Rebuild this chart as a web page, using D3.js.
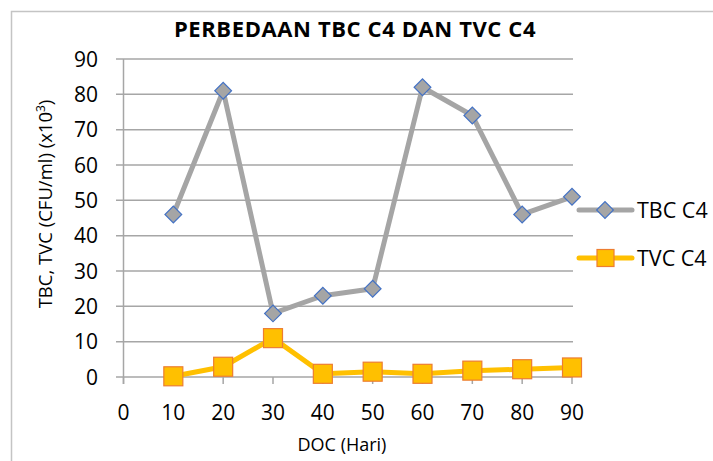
<!DOCTYPE html>
<html>
<head>
<meta charset="UTF-8">
<script src="https://d3js.org/d3.v7.min.js"></script>
<style>
  body { margin: 0; background: #fff; }
  text { font-family: "Open Sans", sans-serif; fill: #000; }
</style>
</head>
<body>
<div id="id_chart"></div>
<script>
// chart values
var days = [10, 20, 30, 40, 50, 60, 70, 80, 90];
var tbc = [46, 81, 18, 23, 25, 82, 74, 46, 51];
var tvc = [0.2, 2.9, 11, 0.9, 1.5, 0.9, 1.8, 2.2, 2.7];
var xTicks = [0, 10, 20, 30, 40, 50, 60, 70, 80, 90];
var yTicks = [0, 10, 20, 30, 40, 50, 60, 70, 80, 90];
var seriesNames = ["TBC C4", "TVC C4"];

var W = 713, H = 461;
var svg = d3.select("#id_chart").append("svg")
    .attr("width", W).attr("height", H);

// outer chart border
svg.append("rect")
    .attr("x", 11.5).attr("y", 11.5)
    .attr("width", W + 20).attr("height", H + 20)
    .attr("fill", "none").attr("stroke", "#c4c4c4").attr("stroke-width", 1.5);

var x = d3.scaleLinear().domain([0, 90]).range([123.5, 572]);
var y = d3.scaleLinear().domain([0, 90]).range([377, 59]);

// gridlines
svg.append("g").selectAll("line")
  .data(yTicks)
  .enter().append("line")
    .attr("x1", 116).attr("x2", 573)
    .attr("y1", function(d) { return y(d); })
    .attr("y2", function(d) { return y(d); })
    .attr("stroke", "#a6a6a6").attr("stroke-width", 1.5);

// vertical axis line
svg.append("line")
    .attr("x1", x(0)).attr("x2", x(0))
    .attr("y1", y(90)).attr("y2", 384)
    .attr("stroke", "#a6a6a6").attr("stroke-width", 1.5);

// x ticks
svg.append("g").selectAll("line")
  .data(xTicks)
  .enter().append("line")
    .attr("x1", function(d) { return x(d); })
    .attr("x2", function(d) { return x(d); })
    .attr("y1", y(0)).attr("y2", 384)
    .attr("stroke", "#a6a6a6").attr("stroke-width", 1.5);

// tick labels
svg.append("g").selectAll("text")
  .data(xTicks)
  .enter().append("text")
    .attr("x", function(d) { return x(d); })
    .attr("y", 420)
    .attr("text-anchor", "middle")
    .style("font-size", "21px")
    .text(function(d) { return d; });

svg.append("g").selectAll("text")
  .data(yTicks)
  .enter().append("text")
    .attr("x", 98)
    .attr("y", function(d) { return y(d) + 7.5; })
    .attr("text-anchor", "end")
    .style("font-size", "21px")
    .text(function(d) { return d; });

// titles
svg.append("text")
    .attr("x", 355).attr("y", 37)
    .attr("text-anchor", "middle")
    .style("font-size", "22px").style("font-weight", "bold")
    .style("letter-spacing", "0.6px")
    .text("PERBEDAAN TBC C4 DAN TVC C4");

svg.append("text")
    .attr("x", 342).attr("y", 451)
    .attr("text-anchor", "middle")
    .style("font-size", "18px")
    .text("DOC (Hari)");

svg.append("text")
    .attr("transform", "translate(52,204) rotate(-90)")
    .attr("text-anchor", "middle")
    .style("font-size", "18.5px")
    .html("TBC, TVC (CFU/ml) (x10<tspan dy='-7' style='font-size:12px'>3</tspan><tspan dy='7'>)</tspan>");

var line = d3.line()
    .x(function(d, i) { return x(days[i]); })
    .y(function(d) { return y(d); });

// TBC series
svg.append("path").datum(tbc)
    .attr("d", line)
    .attr("fill", "none").attr("stroke", "#a5a5a5")
    .attr("stroke-width", 5).attr("stroke-linejoin", "round");

var diamond = d3.symbol().type(d3.symbolSquare).size(140);
svg.append("g").selectAll("path")
  .data(tbc)
  .enter().append("path")
    .attr("d", diamond)
    .attr("transform", function(d, i) { return "translate(" + x(days[i]) + "," + y(d) + ") rotate(45)"; })
    .attr("fill", "#a5a5a5").attr("stroke", "#4472c4").attr("stroke-width", 1.2);

// TVC series
svg.append("path").datum(tvc)
    .attr("d", line)
    .attr("fill", "none").attr("stroke", "#ffc000")
    .attr("stroke-width", 5).attr("stroke-linejoin", "round");

svg.append("g").selectAll("rect")
  .data(tvc)
  .enter().append("rect")
    .attr("x", function(d, i) { return x(days[i]) - 9.5; })
    .attr("y", function(d) { return y(d) - 9.5; })
    .attr("width", 19).attr("height", 19)
    .attr("fill", "#ffc000").attr("stroke", "#ed7d31").attr("stroke-width", 1.2);

// legend
var legY = [210, 258];
var legColor = ["#a5a5a5", "#ffc000"];
var leg = svg.append("g").selectAll("g")
  .data(seriesNames)
  .enter().append("g")
    .attr("transform", function(d, i) { return "translate(0," + legY[i] + ")"; });

leg.append("line")
    .attr("x1", 579).attr("x2", 632).attr("y1", 0).attr("y2", 0)
    .attr("stroke", function(d, i) { return legColor[i]; })
    .attr("stroke-width", 5).attr("stroke-linecap", "round");

leg.filter(function(d, i) { return i === 0; }).append("path")
    .attr("d", diamond)
    .attr("transform", "translate(605,0) rotate(45)")
    .attr("fill", "#a5a5a5").attr("stroke", "#4472c4").attr("stroke-width", 1.2);

leg.filter(function(d, i) { return i === 1; }).append("rect")
    .attr("x", 597).attr("y", -8.5).attr("width", 17).attr("height", 17)
    .attr("fill", "#ffc000").attr("stroke", "#ed7d31").attr("stroke-width", 1.2);

leg.append("text")
    .attr("x", 637).attr("y", 7.5)
    .style("font-size", "21.5px")
    .text(function(d) { return d; });
</script>
</body>
</html>
